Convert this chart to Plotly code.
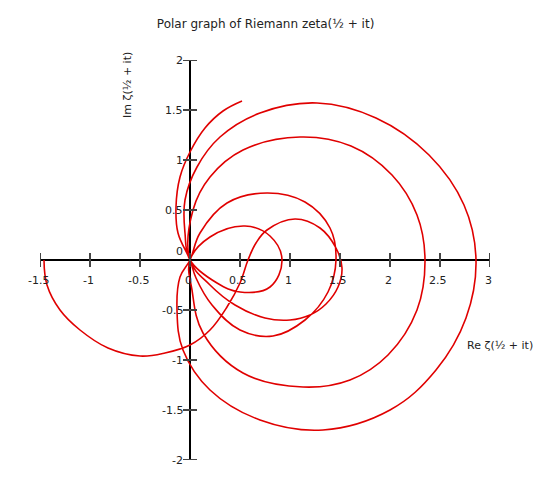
import plotly.graph_objects as go

# traced points of zeta(1/2 + it), loop by loop (each loop ends at a zero)
loop1_x = [-1.46, -1.43, -1.3, -1.1, -0.82, -0.5, -0.25, 0.0, 0.2, 0.37, 0.5, 0.58, 0.66, 0.77, 1.05, 1.3, 1.46, 1.52, 1.48, 1.36, 1.2, 1.0, 0.75, 0.45, 0.2, 0.0]
loop1_y = [0.0, -0.25, -0.5, -0.7, -0.88, -0.96, -0.93, -0.85, -0.7, -0.47, -0.23, 0.0, 0.17, 0.3, 0.41, 0.32, 0.12, -0.08, -0.27, -0.44, -0.55, -0.6, -0.58, -0.45, -0.25, 0.0]
loop2_x = [0.03, 0.2, 0.53, 1.1, 1.61, 2.02, 2.27, 2.35, 2.27, 1.98, 1.6, 1.13, 0.53, 0.13, 0.02, 0.0]
loop2_y = [0.5, 0.83, 1.1, 1.23, 1.14, 0.85, 0.45, 0.0, -0.5, -0.95, -1.2, -1.27, -1.13, -0.73, -0.3, 0.0]
loop3_x = [0.2, 0.55, 0.8, 0.92, 0.8, 0.5, 0.27, 0.0]
loop3_y = [0.23, 0.34, 0.24, 0.0, -0.27, -0.32, -0.23, 0.0]
loop4_x = [-0.05, -0.05, 0.07, 0.3, 0.7, 1.27, 1.86, 2.39, 2.74, 2.86, 2.76, 2.46, 2.0, 1.33, 0.7, 0.2, -0.07, -0.13, -0.1, 0.0]
loop4_y = [0.27, 0.6, 0.93, 1.23, 1.47, 1.57, 1.42, 1.05, 0.55, 0.0, -0.58, -1.1, -1.5, -1.7, -1.6, -1.3, -0.9, -0.5, -0.17, 0.0]
loop5_x = [0.1, 0.37, 0.77, 1.15, 1.4, 1.46, 1.38, 1.15, 0.83, 0.5, 0.22, 0.06, 0.0]
loop5_y = [0.27, 0.57, 0.67, 0.58, 0.32, 0.0, -0.32, -0.6, -0.76, -0.7, -0.45, -0.18, 0.0]
tail_x = [-0.12, -0.14, -0.1, 0.0, 0.15, 0.33, 0.52]
tail_y = [0.27, 0.53, 0.83, 1.08, 1.32, 1.49, 1.59]

x_ticks = [-1.5, -1, -0.5, 0, 0.5, 1, 1.5, 2, 2.5, 3]
y_ticks = [-2, -1.5, -1, -0.5, 0.5, 1, 1.5, 2]

xs = loop1_x + loop2_x + loop3_x + loop4_x + loop5_x + tail_x
ys = loop1_y + loop2_y + loop3_y + loop4_y + loop5_y + tail_y

fig = go.Figure(go.Scatter(x=xs, y=ys, mode="lines",
                           line=dict(color="#e00000", width=1.6, shape="spline", smoothing=1.1),
                           hoverinfo="skip"))

font = dict(family="DejaVu Sans", size=11, color="#222")
shapes = []
annotations = []
for t in x_ticks:
    shapes.append(dict(type="line", xref="x", yref="y", x0=t, x1=t, y0=-0.07, y1=0.07,
                       line=dict(color="#444", width=2)))
    annotations.append(dict(x=t, y=-0.12, xref="x", yref="y", text=f"{t:g}", showarrow=False,
                            yanchor="top", xshift=-2, font=font))
for t in y_ticks:
    shapes.append(dict(type="line", xref="x", yref="y", x0=-0.07, x1=0.07, y0=t, y1=t,
                       line=dict(color="#444", width=2)))
    annotations.append(dict(x=-0.05, y=t, xref="x", yref="y", text=f"{t:g}", showarrow=False,
                            xanchor="right", font=font))
annotations.append(dict(x=-0.05, y=0, xref="x", yref="y", text="0", showarrow=False,
                        xanchor="right", yanchor="bottom", font=font))
annotations.append(dict(x=2.75, y=-0.85, xref="x", yref="y", text="Re ζ(½ + it)", showarrow=False,
                        xanchor="left", font=font))
annotations.append(dict(x=-0.63, y=1.75, xref="x", yref="y", text="Im ζ(½ + it)", showarrow=False,
                        textangle=-90, font=font))

fig.update_layout(
    width=560, height=480,
    margin=dict(l=32, r=78, t=52, b=28),
    paper_bgcolor="white", plot_bgcolor="white",
    showlegend=False,
    title=dict(text="Polar graph of Riemann zeta(½ + it)", x=0.46, y=0.975, xanchor="center",
               font=dict(family="DejaVu Sans", size=12, color="#222")),
    xaxis=dict(range=[-1.5, 3], showgrid=False, showticklabels=False, zeroline=True,
               zerolinecolor="black", zerolinewidth=2, fixedrange=True),
    yaxis=dict(range=[-2, 2], showgrid=False, showticklabels=False, zeroline=True,
               zerolinecolor="black", zerolinewidth=2, fixedrange=True),
    shapes=shapes, annotations=annotations,
)
fig.write_html("out.html")
